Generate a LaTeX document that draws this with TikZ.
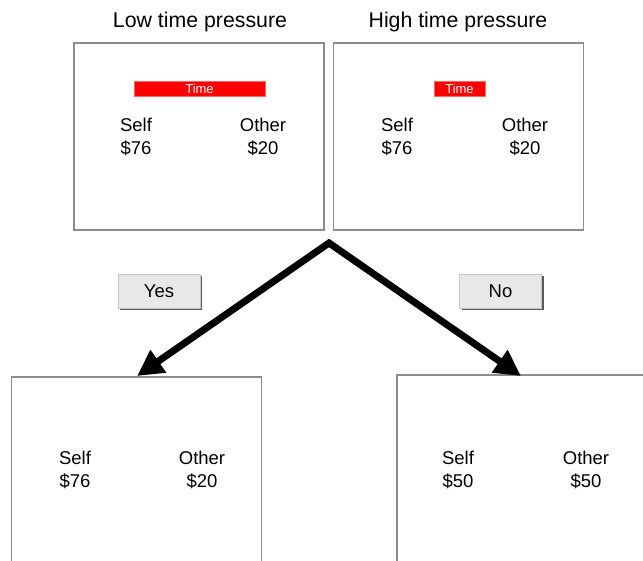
\documentclass[tikz,border=0pt]{standalone}
\usepackage{fontspec}
\setmainfont{Liberation Sans}
\usetikzlibrary{arrows.meta,positioning,shadows}
\tikzset{
    screen/.style = {rectangle,
                    fill=white,
                    draw=black!45,
                    line width=1.1pt,
                    minimum width=250pt,
                    minimum height=187pt},
    heading/.style = {text=black,
                    font=\fontsize{21.3}{25}\selectfont},
    payoff/.style = {align=center,
                    text=black,
                    font=\fontsize{18.5}{22.5}\selectfont},
    timebar/.style = {rectangle,
                    fill=red,
                    draw=red!60!white,
                    text=white,
                    inner sep=0pt,
                    minimum height=15pt,
                    font=\fontsize{13}{13}\selectfont},
    button/.style = {rectangle,
                    fill=black!9,
                    draw=black!22,
                    text=black,
                    minimum width=82pt,
                    minimum height=34pt,
                    font=\fontsize{18.5}{22}\selectfont,
                    drop shadow={shadow xshift=2pt, shadow yshift=-2pt, fill=black!65, opacity=1}},
    choice/.style = {line width=7pt,
                    line join=miter,
                    {Triangle[length=26pt,width=26pt]}-{Triangle[length=26pt,width=26pt]}}
}
\begin{document}
\begin{tikzpicture}[x=1pt,y=-1pt]
    \useasboundingbox (0,0) rectangle (643,560);
    \clip (0,0) rectangle (643,560);
    % top screens
    \node[screen]       (low)  at (199,136.5)   {};
    \node[screen]       (high) at (458.5,136.5) {};
    \node[heading]      (lowT)  at (200,22)     {Low time pressure};
    \node[heading]      (highT) at (458,22)     {High time pressure};
    \node[timebar, minimum width=131pt] (barL) at (199.5,88.5) {Time};
    \node[timebar, minimum width=51pt]  (barH) at (459.5,88.5) {Time};
    \node[payoff]       (lowS)  at (136,137)    {Self\\\$76};
    \node[payoff]       (lowO)  at (263,137)    {Other\\\$20};
    \node[payoff]       (highS) at (397,137)    {Self\\\$76};
    \node[payoff]       (highO) at (525,137)    {Other\\\$20};
    % bottom screens
    \node[screen, minimum height=220pt]                      (yesS) at (136.5,487) {};
    \node[screen, minimum width=263pt, minimum height=220pt] (noS)  at (528.5,485) {};
    \node[payoff]       (yesSelf)  at (75,470)  {Self\\\$76};
    \node[payoff]       (yesOther) at (202,470) {Other\\\$20};
    \node[payoff]       (noSelf)   at (458,470) {Self\\\$50};
    \node[payoff]       (noOther)  at (586,470) {Other\\\$50};
    % buttons
    \node[button]       (yes) at (159,291)   {Yes};
    \node[button]       (no)  at (500.5,291) {No};
    % arrows
    \coordinate (apex)   at (329,243);
    \coordinate (yesTip) at (137,376);
    \coordinate (noTip)  at (521,376);
    \draw[choice] (yesTip) -- (apex) -- (noTip);
\end{tikzpicture}
\end{document}
